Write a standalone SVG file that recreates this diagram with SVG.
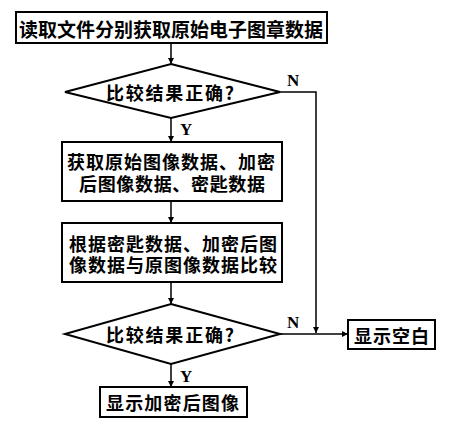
<svg xmlns="http://www.w3.org/2000/svg" width="472" height="429" viewBox="0 0 472 429">
<defs>
<style>
.box{fill:#fff;stroke:#000;stroke-width:2}
.t{font-family:"Noto Sans CJK SC","Noto Sans CJK JP",sans-serif;font-size:18px;font-weight:bold;fill:#000;dominant-baseline:central}
.lbl{font-family:"Liberation Serif",serif;font-size:17px;font-weight:bold;fill:#000}
.c{fill:none;stroke:#000;stroke-width:1.5}
</style>
<marker id="ah" viewBox="0 0 10 10" refX="10" refY="5" markerWidth="6" markerHeight="8" markerUnits="userSpaceOnUse" orient="auto">
<path d="M0,0 L10,5 L0,10 Z" fill="#000"/>
</marker>
</defs>
<rect width="472" height="429" fill="#fff"/>
<g id="connectors">
<line class="c" x1="171" y1="43" x2="171" y2="64" marker-end="url(#ah)"/>
<line class="c" x1="171" y1="118" x2="171" y2="142" marker-end="url(#ah)"/>
<line class="c" x1="171" y1="201" x2="171" y2="223" marker-end="url(#ah)"/>
<line class="c" x1="171" y1="282" x2="171" y2="304" marker-end="url(#ah)"/>
<line class="c" x1="171" y1="364" x2="171" y2="387" marker-end="url(#ah)"/>
<polyline class="c" points="280,92 316,92 316,333" marker-end="url(#ah)"/>
<line class="c" x1="280" y1="334" x2="348" y2="334" marker-end="url(#ah)"/>
<text class="lbl" x="287" y="86">N</text>
<text class="lbl" x="180" y="135">Y</text>
<text class="lbl" x="287" y="328">N</text>
<text class="lbl" x="180" y="382">Y</text>
</g>
<g id="n1">
<rect class="box" x="16" y="12" width="311" height="31"/>
<text class="t" x="19" y="28" style="font-size:19px" textLength="304" lengthAdjust="spacing">读取文件分别获取原始电子图章数据</text>
</g>
<g id="d1">
<polygon class="box" points="171,64 280,92 171,118 65,92"/>
<text class="t" x="106" y="92" textLength="128" lengthAdjust="spacing">比较结果正确?</text>
</g>
<g id="n2">
<rect class="box" x="62" y="142" width="220" height="59"/>
<text class="t" x="67" y="161" textLength="208" lengthAdjust="spacing">获取原始图像数据、加密</text>
<text class="t" x="79" y="182.5" textLength="186" lengthAdjust="spacing">后图像数据、密匙数据</text>
</g>
<g id="n3">
<rect class="box" x="62" y="223" width="220" height="59"/>
<text class="t" x="69" y="243" textLength="208" lengthAdjust="spacing">根据密匙数据、加密后图</text>
<text class="t" x="69" y="264" textLength="208" lengthAdjust="spacing">像数据与原图像数据比较</text>
</g>
<g id="d2">
<polygon class="box" points="171,304 280,334 171,364 65,334"/>
<text class="t" x="106" y="334" textLength="128" lengthAdjust="spacing">比较结果正确?</text>
</g>
<g id="n4">
<rect class="box" x="348" y="320" width="87" height="29"/>
<text class="t" x="354" y="335" textLength="75" lengthAdjust="spacing">显示空白</text>
</g>
<g id="n5">
<rect class="box" x="100" y="387" width="147" height="30"/>
<text class="t" x="106" y="402" textLength="133" lengthAdjust="spacing">显示加密后图像</text>
</g>
</svg>
